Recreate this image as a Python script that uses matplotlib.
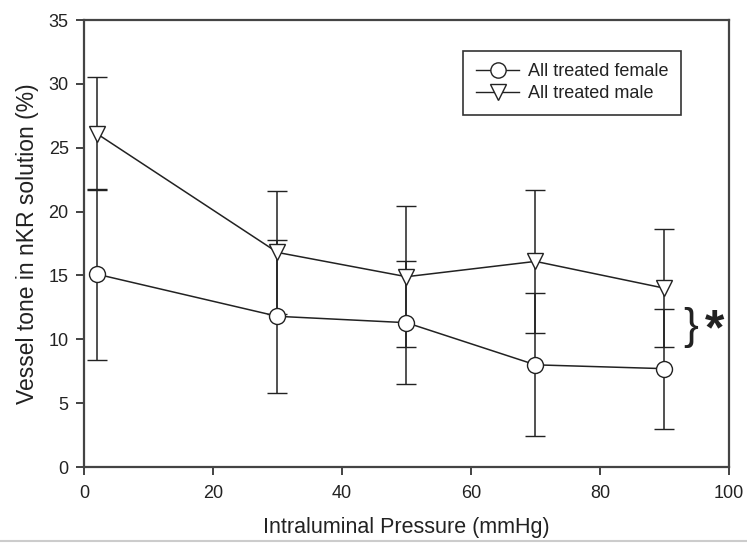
import numpy as np
import matplotlib
matplotlib.use("Agg")
import matplotlib.pyplot as plt
from matplotlib.lines import Line2D

plt.rcParams["font.family"] = ["Liberation Sans", "DejaVu Sans"]

# pressure steps (mmHg)
pressure = [2, 30, 50, 70, 90]

# vessel tone (%), mean and SD
female_mean = [15.1, 11.8, 11.3, 8.0, 7.7]
female_sd = [6.7, 6.0, 4.8, 5.6, 4.7]
male_mean = [26.1, 16.8, 14.9, 16.1, 14.0]
male_sd = [4.4, 4.8, 5.5, 5.6, 4.6]

x_ticks = [0, 20, 40, 60, 80, 100]
y_ticks = [0, 5, 10, 15, 20, 25, 30, 35]

ink = "#222222"

fig = plt.figure(figsize=(7.47, 5.45), dpi=100)
ax = fig.add_axes([0.1124, 0.1431, 0.8635, 0.8202])

ax.errorbar(pressure, female_mean, yerr=female_sd, color=ink, lw=1.1,
            marker="o", ms=11.5, mfc="white", mec=ink, mew=1.0,
            capsize=7, capthick=1.1, elinewidth=1.1,
            label="All treated female", zorder=3)
ax.errorbar(pressure, male_mean, yerr=male_sd, color=ink, lw=1.1,
            marker="v", ms=11.5, mfc="white", mec=ink, mew=1.0,
            capsize=7, capthick=1.1, elinewidth=1.1,
            label="All treated male", zorder=3)

ax.set_xlim(0, 100)
ax.set_ylim(0, 35)
ax.set_xticks(x_ticks)
ax.set_yticks(y_ticks)
ax.tick_params(direction="out", length=6, width=1.2, color=ink,
               labelsize=13, labelcolor=ink)
ax.tick_params(axis="x", pad=7)
ax.tick_params(axis="y", pad=5)
for s in ax.spines.values():
    s.set_linewidth(1.6)
    s.set_color("#444444")

ax.set_xlabel("Intraluminal Pressure (mmHg)", fontsize=15.5, color=ink, labelpad=11)
ax.set_ylabel("Vessel tone in nKR solution (%)", fontsize=16.5, color=ink, labelpad=7)

# significance marker
ax.text(94.1, 10.9, "}", fontsize=32, fontweight="light", ha="center", va="center", color=ink)
ax.text(97.7, 10.6, "*", fontsize=36, fontweight="bold", ha="center", va="center", color=ink)

handles = [
    Line2D([], [], color=ink, lw=1.0, marker="o", ms=11, mfc="white", mec=ink),
    Line2D([], [], color=ink, lw=1.0, marker="v", ms=11, mfc="white", mec=ink),
]
leg = ax.legend(handles, ["All treated female", "All treated male"],
                loc="upper left", bbox_to_anchor=(0.588, 0.931),
                fontsize=13, frameon=True, fancybox=False, framealpha=1,
                edgecolor="#333333", handlelength=2.4, handletextpad=0.5,
                labelspacing=0.25, borderpad=0.7, borderaxespad=0)
leg.get_frame().set_linewidth(1.2)
for t in leg.get_texts():
    t.set_color(ink)

# light rule at the bottom edge of the image
fig.add_artist(Line2D([0, 1], [0.008, 0.008], color="#cccccc", lw=1.5))

fig.savefig("out.png", dpi=100)
